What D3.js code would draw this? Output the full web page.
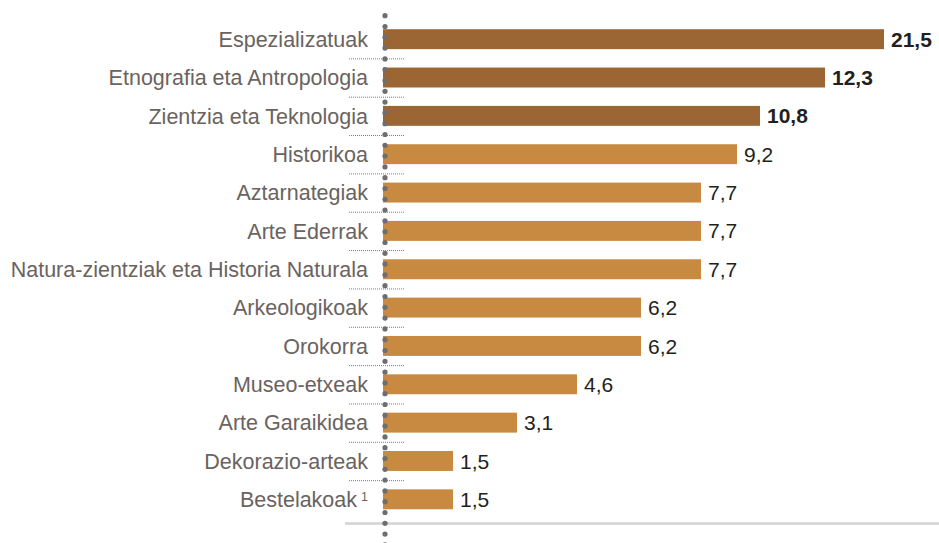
<!DOCTYPE html>
<html lang="eu">
<head>
<meta charset="UTF-8">
<title>Museoak motaren arabera</title>
<script src="https://d3js.org/d3.v7.min.js"></script>
<style>
  body { margin: 0; background: #fff; }
  text { font-family: "Liberation Sans", Arial, sans-serif; }
</style>
</head>
<body>
<script>
// data
var categories = ["Espezializatuak", "Etnografia eta Antropologia", "Zientzia eta Teknologia",
    "Historikoa", "Aztarnategiak", "Arte Ederrak", "Natura-zientziak eta Historia Naturala",
    "Arkeologikoak", "Orokorra", "Museo-etxeak", "Arte Garaikidea", "Dekorazio-arteak", "Bestelakoak"];
var values = [21.5, 12.3, 10.8, 9.2, 7.7, 7.7, 7.7, 6.2, 6.2, 4.6, 3.1, 1.5, 1.5];
var highlighted = [true, true, true, false, false, false, false, false, false, false, false, false, false];
var footnotes = ["", "", "", "", "", "", "", "", "", "", "", "", "1"];

var W = 939, H = 543;
var x0 = 383;

var svg = d3.select("body").append("svg")
    .attr("width", W)
    .attr("height", H);

// the source chart compresses the long bars, so the scale is piecewise
var x = d3.scaleLinear()
    .domain([0, 7.7, 9.2, 10.8, 12.3, 21.5])
    .range([393, 701, 737, 760, 825, 884]);

var y = d3.scaleBand()
    .domain(categories)
    .range([20, 518.5])
    .paddingInner(0.48)
    .paddingOuter(0.24);

var rows = categories.map(function (c, i) {
    return { cat: c, v: values[i], hi: highlighted[i], note: footnotes[i] };
});

// baseline at the bottom
svg.append("line")
    .attr("x1", 345).attr("x2", W)
    .attr("y1", 523.5).attr("y2", 523.5)
    .attr("stroke", "#d2d2d2")
    .attr("stroke-width", 2.5);

// dotted separators between rows
svg.selectAll("line.sep")
    .data(categories.slice(1))
    .join("line")
    .attr("class", "sep")
    .attr("x1", 349).attr("x2", 404)
    .attr("y1", function (d) { return y(d) - (y.step() - y.bandwidth()) / 2 + 0.5; })
    .attr("y2", function (d) { return y(d) - (y.step() - y.bandwidth()) / 2 + 0.5; })
    .attr("stroke", "#7a7a7a")
    .attr("stroke-width", 1)
    .attr("stroke-dasharray", "1,1");

// bars
svg.selectAll("rect.bar")
    .data(rows)
    .join("rect")
    .attr("class", "bar")
    .attr("x", x0)
    .attr("y", function (d) { return y(d.cat); })
    .attr("width", function (d) { return x(d.v) - x0; })
    .attr("height", y.bandwidth())
    .attr("fill", function (d) { return d.hi ? "#9b6634" : "#c78a40"; });

// dotted vertical axis
svg.selectAll("circle.dot")
    .data(d3.range(15.7, H + 3, 10.8))
    .join("circle")
    .attr("class", "dot")
    .attr("cx", 385)
    .attr("cy", function (d) { return d; })
    .attr("r", 2.6)
    .attr("fill", "#6e6e70");

// category labels
var labels = svg.selectAll("text.cat")
    .data(rows)
    .join("text")
    .attr("class", "cat")
    .attr("x", 368)
    .attr("y", function (d) { return y(d.cat) + y.bandwidth() / 2; })
    .attr("dy", "0.36em")
    .attr("text-anchor", "end")
    .attr("font-size", "21.5px")
    .attr("fill", "#6a6360");

labels.append("tspan").text(function (d) { return d.cat; });
labels.filter(function (d) { return d.note; })
    .append("tspan")
    .attr("dx", 4)
    .attr("dy", "-0.45em")
    .attr("font-size", "12.5px")
    .text(function (d) { return d.note; });

// value labels
svg.selectAll("text.val")
    .data(rows)
    .join("text")
    .attr("class", "val")
    .attr("x", function (d) { return x(d.v) + 7; })
    .attr("y", function (d) { return y(d.cat) + y.bandwidth() / 2; })
    .attr("dy", "0.36em")
    .attr("font-size", "21px")
    .attr("font-weight", function (d) { return d.hi ? "bold" : "normal"; })
    .attr("fill", "#231f20")
    .text(function (d) { return String(d.v).replace(".", ","); });
</script>
</body>
</html>
